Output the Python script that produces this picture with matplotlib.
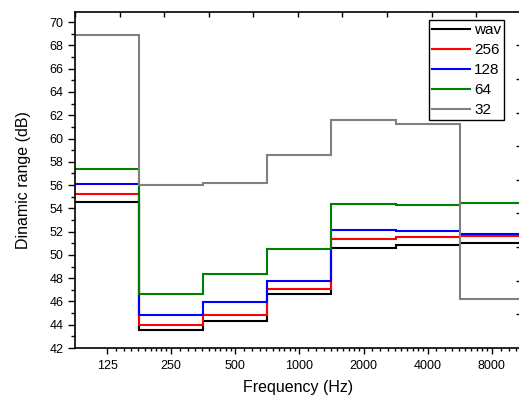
import numpy as np
import matplotlib.pyplot as plt
from matplotlib.ticker import FixedLocator, NullFormatter

plt.rcParams['font.family'] = ['Liberation Sans', 'DejaVu Sans']

# octave band centres (Hz) and dynamic range per bit rate (dB)
freqs = [125, 250, 500, 1000, 2000, 4000, 8000]
tick_labels = ['125', '250', '500', '1000', '2000', '4000', '8000']
series_names = ['wav', '256', '128', '64', '32']
series_colors = ['black', '#ff0000', '#0000ff', '#008000', '#808080']

wav = [54.58, 43.57, 44.35, 46.67, 50.62, 50.83, 51.05]
br256 = [55.27, 43.98, 44.86, 47.05, 51.35, 51.57, 51.63]
br128 = [56.10, 44.86, 45.96, 47.79, 52.17, 52.06, 51.80]
br64 = [57.40, 46.64, 48.36, 50.54, 54.38, 54.27, 54.49]
br32 = [68.90, 56.05, 56.15, 58.57, 61.58, 61.26, 46.24]
series = [wav, br256, br128, br64, br32]

f = np.array(freqs, dtype=float)
edges = np.append(f / np.sqrt(2), f[-1] * np.sqrt(2))

fig = plt.figure(figsize=(5.19, 3.98), dpi=100)
# right spine sits just past the image edge
ax = fig.add_axes([0.1445, 0.1256, 0.859, 0.845])

for vals, name, col in zip(series, series_names, series_colors):
    ax.stairs(vals, edges, baseline=None, color=col, lw=1.5, label=name)

ax.set_xscale('log')
ax.set_xlim(edges[0], 10950)
ax.set_ylim(42, 70.9)

ax.xaxis.set_major_locator(FixedLocator(freqs))
ax.set_xticklabels(tick_labels)
minor = [b + b / 10 * k for b in freqs for k in range(1, 10)]
ax.xaxis.set_minor_locator(FixedLocator(minor))
ax.xaxis.set_minor_formatter(NullFormatter())
ax.set_yticks(np.arange(42, 71, 2))
ax.set_yticks(np.arange(43, 71, 2), minor=True)

ax.tick_params(axis='both', which='major', labelsize=9, direction='out', width=1)
ax.tick_params(axis='y', which='major', length=5)
ax.tick_params(axis='y', which='minor', length=3, width=1)
ax.tick_params(axis='x', which='major', length=4.5, pad=4)
ax.tick_params(axis='x', which='minor', length=2.5, width=1)
for s in ax.spines.values():
    s.set_linewidth(1.2)

ax.set_xlabel('Frequency (Hz)', fontsize=11.5, labelpad=6)
ax.set_ylabel('Dinamic range (dB)', fontsize=11.5, labelpad=13)

ax.legend(loc='upper right', bbox_to_anchor=(0.963, 0.975), borderaxespad=0,
          fontsize=11, fancybox=False, edgecolor='black', framealpha=1,
          labelspacing=0.39, handlelength=2.45, handletextpad=0.3,
          borderpad=0.2)

# top and right ticks of the frame
ov = fig.add_axes(ax.get_position(), facecolor='none')
ov.set_xlim(0, 10)
ov.set_ylim(0, 10)
for s in ov.spines.values():
    s.set_visible(False)
ov.xaxis.tick_top()
ov.yaxis.tick_right()
ov.set_xticks(range(0, 11))
ov.set_yticks(range(1, 10))
ov.tick_params(direction='in', length=3.5, width=1, labeltop=False, labelright=False)

fig.savefig('out.png', dpi=100)
